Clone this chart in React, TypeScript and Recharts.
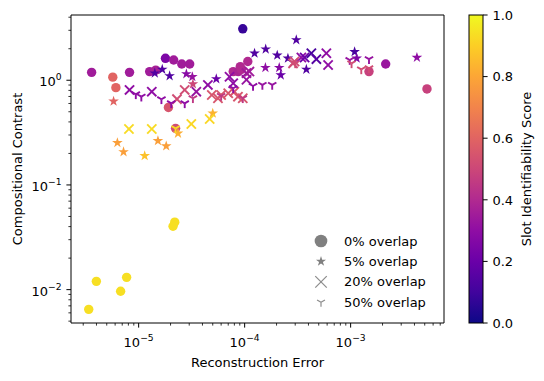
import React from "react";
import { ScatterChart, Scatter, XAxis, YAxis, ReferenceArea, Legend } from "recharts";

// x = reconstruction error, y = compositional contrast, s = slot identifiability score
const overlap0 = [
  { x: 3.6e-6, y: 1.19, s: 0.35 }, { x: 5.7e-6, y: 1.07, s: 0.6 }, { x: 6.1e-6, y: 0.85, s: 0.6 },
  { x: 8.2e-6, y: 1.19, s: 0.35 }, { x: 1.27e-5, y: 1.21, s: 0.35 }, { x: 1.45e-5, y: 1.25, s: 0.37 },
  { x: 1.79e-5, y: 1.62, s: 0.25 }, { x: 2.14e-5, y: 1.56, s: 0.35 }, { x: 2.55e-5, y: 1.43, s: 0.35 },
  { x: 3.03e-5, y: 1.43, s: 0.35 }, { x: 1.91e-5, y: 0.55, s: 0.55 }, { x: 2.23e-5, y: 0.347, s: 0.52 },
  { x: 7.8e-5, y: 1.21, s: 0.4 }, { x: 8.7e-5, y: 1.21, s: 0.38 }, { x: 9.1e-5, y: 1.35, s: 0.4 },
  { x: 9.3e-5, y: 1.27, s: 0.4 }, { x: 1.07e-4, y: 1.51, s: 0.4 }, { x: 9.6e-5, y: 3.1, s: 0.08 },
  { x: 1.49e-3, y: 1.21, s: 0.48 }, { x: 2.14e-3, y: 1.43, s: 0.33 }, { x: 5.25e-3, y: 0.826, s: 0.48 },
  { x: 2.19e-5, y: 0.0441, s: 0.94 }, { x: 2.11e-5, y: 0.0403, s: 0.94 }, { x: 3.99e-6, y: 0.012, s: 0.94 },
  { x: 7.7e-6, y: 0.0131, s: 0.94 }, { x: 6.76e-6, y: 0.00964, s: 0.94 }, { x: 3.38e-6, y: 0.00648, s: 0.94 },
];

const overlap5 = [
  { x: 5.8e-6, y: 0.63, s: 0.6 }, { x: 1.42e-5, y: 1.17, s: 0.14 }, { x: 1.67e-5, y: 1.27, s: 0.14 },
  { x: 1.96e-5, y: 1.1, s: 0.14 }, { x: 2.82e-5, y: 1.15, s: 0.28 }, { x: 3.21e-5, y: 1.08, s: 0.32 },
  { x: 3.25e-5, y: 0.92, s: 0.5 }, { x: 5.4e-5, y: 1.03, s: 0.2 }, { x: 1.24e-4, y: 1.81, s: 0.14 },
  { x: 1.58e-4, y: 1.98, s: 0.14 }, { x: 1.57e-4, y: 1.32, s: 0.3 }, { x: 2.03e-4, y: 1.73, s: 0.14 },
  { x: 2.12e-4, y: 1.32, s: 0.28 }, { x: 2.19e-4, y: 1.12, s: 0.2 }, { x: 2.56e-4, y: 1.62, s: 0.14 },
  { x: 3.07e-4, y: 2.43, s: 0.14 }, { x: 3.82e-4, y: 1.27, s: 0.14 }, { x: 1.09e-3, y: 1.87, s: 0.12 },
  { x: 1.14e-3, y: 1.62, s: 0.25 }, { x: 4.22e-3, y: 1.65, s: 0.3 },
  { x: 6.3e-6, y: 0.253, s: 0.78 }, { x: 7.2e-6, y: 0.207, s: 0.78 }, { x: 1.14e-5, y: 0.19, s: 0.87 },
  { x: 1.52e-5, y: 0.264, s: 0.78 }, { x: 1.82e-5, y: 0.235, s: 0.78 }, { x: 2.35e-5, y: 0.311, s: 0.82 },
  { x: 5.0e-5, y: 0.483, s: 0.83 },
];

const overlap20 = [
  { x: 8.2e-6, y: 0.808, s: 0.3 }, { x: 1.33e-5, y: 0.778, s: 0.3 }, { x: 8.1e-6, y: 0.342, s: 0.93 },
  { x: 1.33e-5, y: 0.342, s: 0.93 }, { x: 3.14e-5, y: 0.382, s: 0.92 }, { x: 4.68e-5, y: 0.426, s: 0.92 },
  { x: 2.72e-5, y: 0.808, s: 0.52 }, { x: 2.3e-5, y: 0.66, s: 0.52 }, { x: 3.5e-5, y: 0.778, s: 0.32 },
  { x: 4.5e-5, y: 0.902, s: 0.3 }, { x: 4.9e-5, y: 0.723, s: 0.55 }, { x: 5.6e-5, y: 0.673, s: 0.55 },
  { x: 6.0e-5, y: 0.723, s: 0.55 }, { x: 7.0e-5, y: 0.751, s: 0.55 }, { x: 8.0e-5, y: 0.778, s: 0.55 },
  { x: 8.65e-5, y: 0.697, s: 0.55 }, { x: 9.6e-5, y: 0.673, s: 0.55 }, { x: 7.8e-5, y: 0.936, s: 0.3 },
  { x: 7.2e-5, y: 1.08, s: 0.3 }, { x: 1.04e-4, y: 1.17, s: 0.35 }, { x: 1.11e-4, y: 1.21, s: 0.35 },
  { x: 1.04e-4, y: 1.01, s: 0.32 }, { x: 2.86e-4, y: 1.45, s: 0.52 }, { x: 2.96e-4, y: 1.51, s: 0.52 },
  { x: 3.43e-4, y: 1.65, s: 0.3 }, { x: 3.68e-4, y: 1.65, s: 0.2 }, { x: 4.26e-4, y: 1.81, s: 0.12 },
  { x: 4.75e-4, y: 1.59, s: 0.15 }, { x: 5.9e-4, y: 1.81, s: 0.3 }, { x: 6.13e-4, y: 1.4, s: 0.3 },
];

const overlap50 = [
  { x: 9.4e-6, y: 0.734, s: 0.3 }, { x: 1.06e-5, y: 0.697, s: 0.3 }, { x: 1.64e-5, y: 0.658, s: 0.3 },
  { x: 2.03e-5, y: 0.602, s: 0.3 }, { x: 2.72e-5, y: 0.602, s: 0.3 }, { x: 3.25e-5, y: 0.673, s: 0.45 },
  { x: 2.23e-5, y: 0.347, s: 0.93 }, { x: 6.0e-5, y: 0.708, s: 0.45 }, { x: 9.6e-5, y: 0.673, s: 0.45 },
  { x: 7.8e-5, y: 0.838, s: 0.3 }, { x: 1.2e-4, y: 0.882, s: 0.3 }, { x: 1.47e-4, y: 0.902, s: 0.32 },
  { x: 1.82e-4, y: 0.902, s: 0.32 }, { x: 3.0e-4, y: 1.45, s: 0.52 }, { x: 9.8e-4, y: 1.56, s: 0.32 },
  { x: 1.02e-3, y: 1.45, s: 0.52 }, { x: 1.26e-3, y: 1.27, s: 0.52 }, { x: 1.49e-3, y: 1.59, s: 0.32 },
  { x: 1.49e-3, y: 1.3, s: 0.52 },
];

const xDomain = [2.3e-6, 7.6e-3];
const yDomain = [4.8e-3, 4.2];
const xMajor = [1e-5, 1e-4, 1e-3];
const yMajor = [1e-2, 1e-1, 1];
const cbarTicks = [0, 0.2, 0.4, 0.6, 0.8, 1.0];

const FONT = "DejaVu Sans, sans-serif";

const PLASMA = ["#0d0887", "#41049d", "#6a00a8", "#8f0da4", "#b12a90", "#cc4778",
  "#e16462", "#f2844b", "#fca636", "#fcce25", "#f0f921"];

function plasma(t: number) {
  const v = Math.min(1, Math.max(0, t)) * 10;
  const i = Math.min(9, Math.floor(v));
  const f = v - i;
  const a = PLASMA[i], b = PLASMA[i + 1];
  const ch = (h: string, k: number) => parseInt(h.slice(1 + k * 2, 3 + k * 2), 16);
  const c = [0, 1, 2].map((k) => Math.round(ch(a, k) + (ch(b, k) - ch(a, k)) * f));
  return `rgb(${c[0]},${c[1]},${c[2]})`;
}

// log ticks with minor ones in between
function logTicks(domain: number[]) {
  const out: number[] = [];
  for (let e = Math.floor(Math.log10(domain[0])); e <= Math.ceil(Math.log10(domain[1])); e++) {
    for (let m = 1; m <= 9; m++) {
      const v = m * Math.pow(10, e);
      if (v >= domain[0] && v <= domain[1]) out.push(v);
    }
  }
  return out;
}

const isMajor = (v: number) => Math.abs(Math.log10(v) - Math.round(Math.log10(v))) < 1e-6;

function starPath(cx: number, cy: number, R: number) {
  const r = R * 0.382;
  let d = "";
  for (let k = 0; k < 10; k++) {
    const ang = -Math.PI / 2 + (k * Math.PI) / 5;
    const rad = k % 2 === 0 ? R : r;
    d += (k === 0 ? "M" : "L") + (cx + rad * Math.cos(ang)).toFixed(2) + "," + (cy + rad * Math.sin(ang)).toFixed(2);
  }
  return d + "Z";
}

function Marker({ kind, cx, cy, color, scale = 1, sw = 1.9 }: any) {
  if (kind === "circle") return <circle cx={cx} cy={cy} r={4.7 * scale} fill={color} />;
  if (kind === "star") return <path d={starPath(cx, cy, 5.6 * scale)} fill={color} />;
  if (kind === "x") {
    const h = 4.6 * scale;
    return (
      <g stroke={color} strokeWidth={sw}>
        <line x1={cx - h} y1={cy - h} x2={cx + h} y2={cy + h} />
        <line x1={cx - h} y1={cy + h} x2={cx + h} y2={cy - h} />
      </g>
    );
  }
  const r = 4.8 * scale;
  return (
    <g stroke={color} strokeWidth={sw}>
      <line x1={cx} y1={cy} x2={cx} y2={cy + r} />
      <line x1={cx} y1={cy} x2={cx - 0.866 * r} y2={cy - 0.5 * r} />
      <line x1={cx} y1={cy} x2={cx + 0.866 * r} y2={cy - 0.5 * r} />
    </g>
  );
}

const series = [
  { name: "0% overlap", data: overlap0, kind: "circle" },
  { name: "5% overlap", data: overlap5, kind: "star" },
  { name: "20% overlap", data: overlap20, kind: "x" },
  { name: "50% overlap", data: overlap50, kind: "tri" },
];

function Pow10({ x, y, exp, anchor }: any) {
  return (
    <text x={x} y={y} textAnchor={anchor} fontSize={13} fontFamily={FONT} fill="#000">
      10<tspan dy={-6} fontSize={9.2}>{exp < 0 ? "\u2212" : ""}{Math.abs(exp)}</tspan>
    </text>
  );
}

const XTick = ({ x, y, payload }: any) => {
  const v = payload.value;
  if (!isMajor(v)) return <line x1={x} x2={x} y1={y} y2={y + 2.6} stroke="#000" strokeWidth={0.8} />;
  return (
    <g>
      <line x1={x} x2={x} y1={y} y2={y + 4.6} stroke="#000" strokeWidth={1} />
      <Pow10 x={x} y={y + 24} exp={Math.round(Math.log10(v))} anchor="middle" />
    </g>
  );
};

const YTick = ({ x, y, payload }: any) => {
  const v = payload.value;
  if (!isMajor(v)) return <line x1={x} x2={x - 2.6} y1={y} y2={y} stroke="#000" strokeWidth={0.8} />;
  return (
    <g>
      <line x1={x} x2={x - 4.6} y1={y} y2={y} stroke="#000" strokeWidth={1} />
      <Pow10 x={x - 9.4} y={y + 6} exp={Math.round(Math.log10(v))} anchor="end" />
    </g>
  );
};

const LegendBox = () => (
  <svg width={140} height={90}>
    {series.map((s, i) => (
      <g key={s.name}>
        <Marker kind={s.kind} cx={16} cy={13 + i * 20.4} color={s.kind === "circle" || s.kind === "star" ? "#808080" : "#8c8c8c"}
          scale={s.kind === "circle" ? 1.35 : s.kind === "x" ? 1.25 : 0.95} sw={1.2} />
        <text x={39} y={17.5 + i * 20.4} fontSize={13} fontFamily={FONT} fill="#000">{s.name}</text>
      </g>
    ))}
  </svg>
);

export default function App() {
  const cbTop = 15, cbBot = 323, cbL = 469, cbR = 483;
  return (
    <div style={{ position: "absolute", left: 0, top: 0, width: 544, height: 381, background: "#fff" }}>
      <ScatterChart width={544} height={381} margin={{ top: 15, right: 100, bottom: 0, left: 0 }}>
        <XAxis type="number" dataKey="x" scale="log" domain={xDomain} allowDataOverflow
          ticks={logTicks(xDomain)} interval={0} tick={<XTick />} tickLine={false} tickSize={0} tickMargin={0}
          axisLine={false} height={58} />
        <YAxis type="number" dataKey="y" scale="log" domain={yDomain} allowDataOverflow
          ticks={logTicks(yDomain)} interval={0} tick={<YTick />} tickLine={false} tickSize={0} tickMargin={0}
          axisLine={false} width={71} />
        <ReferenceArea x1={xDomain[0]} x2={xDomain[1]} y1={yDomain[0]} y2={yDomain[1]}
          fill="none" fillOpacity={0} stroke="#000" strokeWidth={1} ifOverflow="visible" />
        {series.map((s) => (
          <Scatter key={s.name} name={s.name} data={s.data} isAnimationActive={false}
            shape={(p: any) => <Marker kind={s.kind} cx={p.cx} cy={p.cy} color={plasma(p.payload.s)} />} />
        ))}
        <Legend layout="horizontal" verticalAlign="middle" align="center" content={<LegendBox />}
          wrapperStyle={{ left: 305, top: 228, width: 140, height: 90 }} />
      </ScatterChart>
      <svg width={544} height={381} style={{ position: "absolute", left: 0, top: 0, pointerEvents: "none" }}>
        <defs>
          <linearGradient id="plasmaGrad" x1="0" y1="1" x2="0" y2="0">
            {PLASMA.map((c, i) => <stop key={i} offset={i / 10} stopColor={c} />)}
          </linearGradient>
        </defs>
        <rect x={cbL} y={cbTop} width={cbR - cbL} height={cbBot - cbTop} fill="url(#plasmaGrad)" stroke="#000" strokeWidth={1} />
        {cbarTicks.map((t) => {
          const y = cbBot - t * (cbBot - cbTop);
          return (
            <g key={t}>
              <line x1={cbR} x2={cbR + 4.6} y1={y} y2={y} stroke="#000" strokeWidth={1} />
              <text x={cbR + 9.4} y={y + 4.7} fontSize={13} fontFamily={FONT} fill="#000">{t.toFixed(1)}</text>
            </g>
          );
        })}
        <text x={531} y={169} transform="rotate(-90 531 169)" textAnchor="middle" fontSize={13} fontFamily={FONT} fill="#000">
          Slot Identifiability Score
        </text>
        <text x={257.5} y={367} textAnchor="middle" fontSize={13} fontFamily={FONT} fill="#000">Reconstruction Error</text>
        <text x={22} y={169} transform="rotate(-90 22 169)" textAnchor="middle" fontSize={13} fontFamily={FONT} fill="#000">
          Compositional Contrast
        </text>
      </svg>
    </div>
  );
}
